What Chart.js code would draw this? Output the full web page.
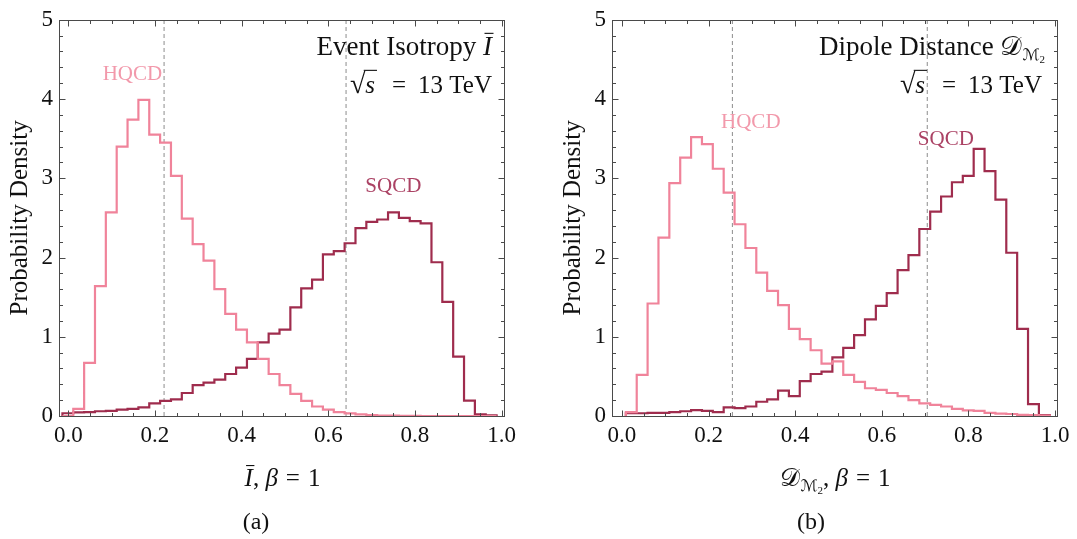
<!DOCTYPE html>
<html>
<head>
<meta charset="utf-8">
<script src="https://cdn.jsdelivr.net/npm/chart.js@4.4.1/dist/chart.umd.min.js"></script>
<style>
  html, body { margin: 0; padding: 0; background: #fff; }
  #wrap { position: relative; width: 1077px; height: 539px; overflow: hidden; }
  canvas { position: absolute; top: 0; }
  #chartA { left: 0; }
  #chartB { left: 538px; }
</style>
</head>
<body>
<div id="wrap">
  <canvas id="chartA" width="538" height="539"></canvas>
  <canvas id="chartB" width="539" height="539"></canvas>
</div>
<script>
// ---- data ----
// (a) event isotropy, bins of width isoBinWidth starting at isoBinStart
const isoBinStart = -0.0136;
const isoBinWidth = 0.02505;
const isoHQCD = [0, 0.09, 0.67, 1.64, 2.57, 3.40, 3.74, 3.99, 3.55, 3.45,
  3.03, 2.49, 2.17, 1.96, 1.60, 1.29, 1.09, 0.93, 0.72, 0.53,
  0.39, 0.28, 0.19, 0.12, 0.08, 0.05, 0.033, 0.02, 0.01, 0.006,
  0.004, 0.002, 0.001, 0, 0, 0, 0, 0, 0, 0];
const isoSQCD = [0.035, 0.045, 0.05, 0.06, 0.065, 0.08, 0.09, 0.11, 0.16, 0.19,
  0.21, 0.29, 0.39, 0.42, 0.46, 0.53, 0.61, 0.72, 0.93, 1.04,
  1.09, 1.37, 1.61, 1.72, 2.04, 2.08, 2.18, 2.37, 2.45, 2.48,
  2.57, 2.50, 2.46, 2.43, 1.94, 1.44, 0.75, 0.195, 0.02, 0.008];
const isoMeans = [0.221, 0.641];

// (b) dipole distance
const dipBinStart = 0.009;
const dipBinWidth = 0.0251;
const dipHQCD = [0.05, 0.52, 1.42, 2.25, 2.94, 3.26, 3.52, 3.43, 3.12, 2.82,
  2.42, 2.12, 1.81, 1.58, 1.40, 1.10, 0.97, 0.83, 0.66, 0.69,
  0.52, 0.43, 0.35, 0.33, 0.29, 0.25, 0.20, 0.16, 0.14, 0.12,
  0.09, 0.07, 0.065, 0.04, 0.03, 0.025, 0.015, 0.01, 0.005];
const dipSQCD = [0.035, 0.035, 0.04, 0.04, 0.05, 0.06, 0.075, 0.065, 0.05, 0.11,
  0.10, 0.12, 0.18, 0.21, 0.32, 0.25, 0.44, 0.53, 0.56, 0.74,
  0.86, 1.02, 1.22, 1.39, 1.55, 1.84, 2.03, 2.36, 2.58, 2.77,
  2.95, 3.03, 3.37, 3.09, 2.73, 2.06, 1.10, 0.15, 0.01];
const dipMeans = [0.255, 0.705];

const HQCD_COLOR = '#f0839a';
const SQCD_COLOR = '#9f2c4d';
const HQCD_TEXT = '#f299ab';
const SQCD_TEXT = '#ab4264';

const SERIF = '"Liberation Serif", "DejaVu Serif", serif';
const MATH = '"Liberation Serif", "DejaVu Serif", "DejaVu Sans", "Noto Sans", serif';
function font(size, style, fam) {
  return (style ? style + ' ' : '') + size + 'px ' + (fam || SERIF);
}

Chart.defaults.font.family = SERIF;
Chart.defaults.color = '#111';

// left bin edges -> stepped points
function stepPoints(start, width, values) {
  var pts = [{x: start, y: 0}];
  values.forEach(function (v, i) { pts.push({x: start + i * width, y: v}); });
  pts.push({x: start + values.length * width, y: 0});
  return pts;
}

function runsWidth(ctx, runs) {
  var w = 0;
  runs.forEach(function (r) { ctx.font = r.font; w += ctx.measureText(r.t).width + (r.gap || 0); });
  return w;
}

// draws a row of text pieces (different fonts, sub/superscript shifts, overlines)
function drawRuns(ctx, runs, x, baseline, align) {
  var total = runsWidth(ctx, runs);
  var cx = align === 'right' ? x - total : align === 'center' ? x - total / 2 : x;
  var radTop = null, radEnd = 0;
  ctx.textAlign = 'left';
  ctx.textBaseline = 'alphabetic';
  runs.forEach(function (r) {
    ctx.font = r.font;
    var by = baseline + (r.dy || 0);
    var m = ctx.measureText(r.t);
    ctx.fillText(r.t, cx, by);
    if (r.t === '√') {
      radTop = by - m.actualBoundingBoxAscent;
      radEnd = cx + m.width;
    }
    if (r.roof && radTop !== null) {
      ctx.fillRect(radEnd - 1.5, radTop, cx + m.width + 2 - (radEnd - 1.5), 1.1);
    }
    if (r.over) {
      var top = by - m.actualBoundingBoxAscent - 3;
      ctx.fillRect(cx + 1.5, top - 1, m.width, 1.1);
    }
    cx += m.width + (r.gap || 0);
  });
}

const framePlugin = {
  id: 'frame',
  afterDraw: function (chart) {
    var ctx = chart.ctx, a = chart.chartArea;
    var xs = chart.scales.x, ys = chart.scales.y;
    var spec = chart.options.plugins.frame;
    ctx.save();

    // frame and inward ticks on all four sides
    ctx.strokeStyle = '#4a4a4a';
    ctx.lineWidth = 1;
    var L = Math.round(a.left) + 0.5, R = Math.round(a.right) + 0.5;
    var T = Math.round(a.top) + 0.5, B = Math.round(a.bottom) + 0.5;
    ctx.strokeRect(L, T, R - L, B - T);
    ctx.beginPath();
    for (var i = Math.ceil(xs.min / 0.05); i * 0.05 <= xs.max + 1e-9; i++) {
      var px = Math.round(xs.getPixelForValue(i * 0.05)) + 0.5;
      var len = i % 4 === 0 ? 6 : 3.5;
      ctx.moveTo(px, B); ctx.lineTo(px, B - len);
      ctx.moveTo(px, T); ctx.lineTo(px, T + len);
    }
    for (var j = 1; j < 25; j++) {
      var py = Math.round(ys.getPixelForValue(j * 0.2)) + 0.5;
      var ln = j % 5 === 0 ? 6 : 3.5;
      ctx.moveTo(L, py); ctx.lineTo(L + ln, py);
      ctx.moveTo(R, py); ctx.lineTo(R - ln, py);
    }
    ctx.stroke();

    // series labels
    ctx.textAlign = 'center';
    ctx.textBaseline = 'middle';
    ctx.font = font(21);
    ctx.fillStyle = HQCD_TEXT;
    ctx.fillText('HQCD', xs.getPixelForValue(spec.hqcdAt[0]), ys.getPixelForValue(spec.hqcdAt[1]));
    ctx.fillStyle = SQCD_TEXT;
    ctx.fillText('SQCD', xs.getPixelForValue(spec.sqcdAt[0]), ys.getPixelForValue(spec.sqcdAt[1]));

    // title block, top right
    ctx.fillStyle = '#111';
    drawRuns(ctx, spec.title, a.right - 12, a.top + 35, 'right');
    drawRuns(ctx, spec.energy, a.right - spec.energyInset, a.top + 73, 'right');

    // axis titles and caption
    drawRuns(ctx, spec.xTitle, (a.left + a.right) / 2 + 1, 486, 'center');
    ctx.font = font(24);
    ctx.textAlign = 'center';
    ctx.textBaseline = 'alphabetic';
    ctx.fillText(spec.caption, spec.captionX, 529);

    ctx.save();
    ctx.translate(a.left - 39, (a.top + a.bottom) / 2);
    ctx.rotate(-Math.PI / 2);
    ctx.textBaseline = 'middle';
    ctx.font = font(25);
    ctx.fillText('Probability Density', 0, 0);
    ctx.restore();

    ctx.restore();
  }
};

function energyRuns() {
  return [
    {t: '√', font: font(28)},
    {t: 's', font: font(25, 'italic'), roof: true, gap: 17},
    {t: '=', font: font(25), gap: 12},
    {t: '13 TeV', font: font(25)}
  ];
}

function betaRuns() {
  return [
    {t: ', ', font: font(25)},
    {t: 'β', font: font(25, 'italic'), gap: 8},
    {t: '=', font: font(25), gap: 8},
    {t: '1', font: font(25)}
  ];
}

function makeChart(id, binStart, binWidth, hqcd, sqcd, means, axis, spec) {
  var datasets = [
    {label: 'HQCD', data: stepPoints(binStart, binWidth, hqcd), borderColor: HQCD_COLOR},
    {label: 'SQCD', data: stepPoints(binStart, binWidth, sqcd), borderColor: SQCD_COLOR}
  ].map(function (d) {
    return Object.assign(d, {stepped: true, borderWidth: 2.2, pointRadius: 0, fill: false,
      borderJoinStyle: 'miter', borderCapStyle: 'butt'});
  });
  means.forEach(function (m) {
    datasets.push({label: 'mean', data: [{x: m, y: 0}, {x: m, y: 5}],
      borderColor: '#8c8c8c', borderWidth: 1, borderDash: [4, 3], pointRadius: 0, fill: false});
  });

  return new Chart(document.getElementById(id), {
    type: 'line',
    data: {datasets: datasets},
    options: {
      responsive: false,
      animation: false,
      layout: {padding: {top: 14, right: axis.padRight, left: 0, bottom: 0}},
      plugins: {legend: {display: false}, tooltip: {enabled: false}, frame: spec},
      scales: {
        x: {
          type: 'linear', min: axis.xMin, max: axis.xMax,
          afterFit: function (s) { s.height = 123; },
          grid: {display: false, drawTicks: false}, border: {display: false},
          ticks: {stepSize: 0.2, includeBounds: false, autoSkip: false, maxRotation: 0,
            padding: 6, font: {size: 23}, color: '#111',
            callback: function (v) { return v.toFixed(1); }}
        },
        y: {
          min: 0, max: 5,
          afterFit: function (s) { s.width = axis.yWidth; },
          grid: {display: false, drawTicks: false}, border: {display: false},
          ticks: {stepSize: 1, padding: 6, font: {size: 23}, color: '#111'}
        }
      }
    },
    plugins: [framePlugin]
  });
}

makeChart('chartA', isoBinStart, isoBinWidth, isoHQCD, isoSQCD, isoMeans,
  {xMin: -0.0215, xMax: 1.0055, yWidth: 59, padRight: 34},
  {
    hqcdAt: [0.148, 4.31], sqcdAt: [0.750, 2.90],
    title: [{t: 'Event Isotropy ', font: font(27)}, {t: 'I', font: font(27, 'italic'), over: true}],
    energy: energyRuns(), energyInset: 12,
    xTitle: [{t: 'I', font: font(25, 'italic'), over: true}].concat(betaRuns()),
    caption: '(a)', captionX: 256
  });

makeChart('chartB', dipBinStart, dipBinWidth, dipHQCD, dipSQCD, dipMeans,
  {xMin: -0.023, xMax: 1.0046, yWidth: 74, padRight: 20},
  {
    hqcdAt: [0.2975, 3.71], sqcdAt: [0.748, 3.49],
    title: [{t: 'Dipole Distance ', font: font(27)}, {t: '𝒟', font: font(27, '', MATH)},
      {t: 'ℳ', font: font(16, '', MATH), dy: 5}, {t: '2', font: font(11), dy: 8}],
    energy: energyRuns(), energyInset: 15,
    xTitle: [{t: '𝒟', font: font(25, '', MATH)}, {t: 'ℳ', font: font(16, '', MATH), dy: 5},
      {t: '2', font: font(11), dy: 8}].concat(betaRuns()),
    caption: '(b)', captionX: 273
  });
</script>
</body>
</html>
